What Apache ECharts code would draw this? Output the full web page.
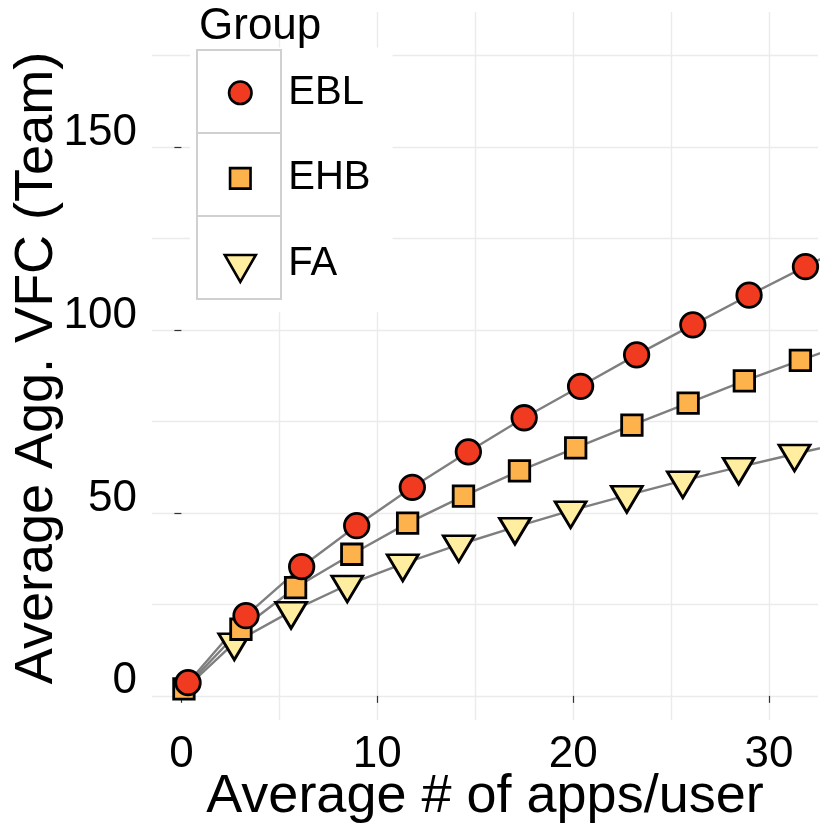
<!DOCTYPE html>
<html>
<head>
<meta charset="utf-8">
<script src="https://cdn.jsdelivr.net/npm/echarts@6/dist/echarts.min.js"></script>
<style>
  html, body { margin: 0; padding: 0; background: #fff; }
  #chart { width: 830px; height: 830px; }
</style>
</head>
<body>
<div id="chart"></div>
<script>
// values
var groups = ['EBL', 'EHB', 'FA'];
var eblX = [0.34, 3.3, 6.14, 8.95, 11.79, 14.65, 17.5, 20.38, 23.24, 26.11, 28.98, 31.86, 34.7];
var eblY = [3.6, 21.9, 35.3, 46.5, 57.0, 66.7, 76.0, 84.6, 93.2, 101.4, 109.5, 117.3, 124.9];
var ehbX = [0.13, 3.04, 5.83, 8.7, 11.55, 14.4, 17.26, 20.13, 23.0, 25.87, 28.74, 31.6, 34.47];
var ehbY = [1.9, 18.2, 29.6, 38.7, 47.2, 54.6, 61.5, 67.8, 74.0, 80.0, 86.1, 91.7, 97.3];
// FA's first value only shows as the start of its line, no marker is drawn there
var faX = [0.2, 2.7, 5.6, 8.47, 11.3, 14.16, 17.03, 19.87, 22.74, 25.6, 28.45, 31.3, 34.15];
var faY = [2.0, 14.5, 23.1, 30.3, 36.1, 41.3, 46.1, 50.6, 54.8, 58.8, 62.5, 66.1, 69.6];

var xTicks = [0, 10, 20, 30];
var yTicks = [0, 50, 100, 150];
var xGrid = [5, 10, 15, 20, 25, 30];
var yGrid = [0, 25, 50, 75, 100, 125, 150, 175];

var FONT = '"Liberation Sans", Arial, Helvetica, sans-serif';

// legend key glyphs, drawn in a 40x40 box (the bare moveTo points fix the box)
var keyIcons = {
  EBL: 'path://M0,0M40,40M31.25,20A11.25,11.25,0,1,1,8.75,20A11.25,11.25,0,1,1,31.25,20Z',
  EHB: 'path://M0,0M40,40M9.75,9.75L30.25,9.75L30.25,30.25L9.75,30.25Z',
  FA: 'path://M0,0M40,40M4.5,11L35.5,11L20,38Z'
};

function pts(xs, ys) {
  return xs.map(function (x, i) { return [x, ys[i]]; });
}

function gridLines() {
  var d = [];
  xGrid.forEach(function (v) { d.push({ xAxis: v }); });
  yGrid.forEach(function (v) { d.push({ yAxis: v }); });
  return d;
}

function lineSeries(name, data, withGrid) {
  var s = {
    name: name + ' line',
    type: 'line',
    data: data,
    symbol: 'none',
    showSymbol: false,
    silent: true,
    z: 1,
    lineStyle: { color: '#7f7f7f', width: 2.4 }
  };
  if (withGrid) {
    s.markLine = {
      silent: true,
      z: 0,
      animation: false,
      symbol: ['none', 'none'],
      label: { show: false },
      lineStyle: { color: '#ebebeb', width: 1.4, type: 'solid' },
      data: gridLines()
    };
  }
  return s;
}

function pointSeries(name, data, symbol, size, fill, extra) {
  var s = {
    name: name,
    type: 'scatter',
    data: data,
    symbol: symbol,
    symbolSize: size,
    z: 3,
    itemStyle: { color: fill, borderColor: '#000', borderWidth: 2.8, opacity: 1 }
  };
  for (var k in extra) s[k] = extra[k];
  return s;
}

var myChart = echarts.init(document.getElementById('chart'), null, { renderer: 'canvas' });

myChart.setOption({
  animation: false,
  backgroundColor: '#fff',
  textStyle: { fontFamily: FONT },
  grid: { left: 152, right: 12, top: 12, bottom: 110, containLabel: false, outerBoundsMode: 'none' },
  title: {
    text: 'Group', left: 194, top: 0,
    textStyle: { fontSize: 44, fontWeight: 'normal', color: '#000', fontFamily: FONT }
  },
  legend: {
    orient: 'vertical',
    left: 190, top: 47.5,
    padding: [24, 22, 27, 29],
    backgroundColor: '#fff',
    itemWidth: 40, itemHeight: 40, itemGap: 43,
    selectedMode: false,
    symbolRotate: 0,
    data: groups.map(function (g) { return { name: g, icon: keyIcons[g] }; }),
    itemStyle: { borderWidth: 2.6, borderColor: '#000' },
    textStyle: { fontSize: 40, lineHeight: 40, color: '#000', fontFamily: FONT, padding: [0, 0, 0, 23] }
  },
  graphic: [0, 1, 2].map(function (i) {
    return {
      type: 'rect', z: 10, silent: true,
      shape: { x: 197, y: 50 + i * 83, width: 84, height: 83 },
      style: { fill: 'none', stroke: '#d0d0d0', lineWidth: 2 }
    };
  }),
  xAxis: {
    type: 'value', min: -1.5, max: 32.5,
    name: 'Average # of apps/user', nameLocation: 'middle', nameGap: 50, nameMoveOverlap: false,
    nameTextStyle: { fontSize: 54, lineHeight: 54, color: '#000', fontFamily: FONT },
    axisLine: { show: false },
    splitLine: { show: false },
    axisTick: { show: true, length: 7, customValues: xTicks, lineStyle: { color: '#333', width: 1.2 } },
    axisLabel: { customValues: xTicks, fontSize: 44, lineHeight: 44, margin: 13, color: '#000', fontFamily: FONT }
  },
  yAxis: {
    type: 'value', min: -6.6, max: 186.9,
    name: 'Average Agg. VFC (Team)', nameLocation: 'middle', nameGap: 88, nameMoveOverlap: false,
    nameTextStyle: { fontSize: 54, lineHeight: 54, color: '#000', fontFamily: FONT, padding: [0, 4, 0, 0] },
    axisLine: { show: false },
    splitLine: { show: false },
    axisTick: { show: true, length: 7, customValues: yTicks, lineStyle: { color: '#333', width: 1.2 } },
    axisLabel: { customValues: yTicks, fontSize: 44, lineHeight: 29, verticalAlign: 'bottom', margin: 15, color: '#000', fontFamily: FONT }
  },
  series: [
    pointSeries('FA', pts(faX, faY).slice(1), 'triangle', [31, 26], '#FFEDA0', { symbolRotate: 180, symbolOffset: [0, 4] }),
    pointSeries('EHB', pts(ehbX, ehbY), 'rect', 20.5, '#FEB24C', {}),
    pointSeries('EBL', pts(eblX, eblY), 'circle', 24.5, '#F03B20', {}),
    lineSeries('FA', pts(faX, faY), true),
    lineSeries('EHB', pts(ehbX, ehbY), false),
    lineSeries('EBL', pts(eblX, eblY), false)
  ]
});
</script>
</body>
</html>
